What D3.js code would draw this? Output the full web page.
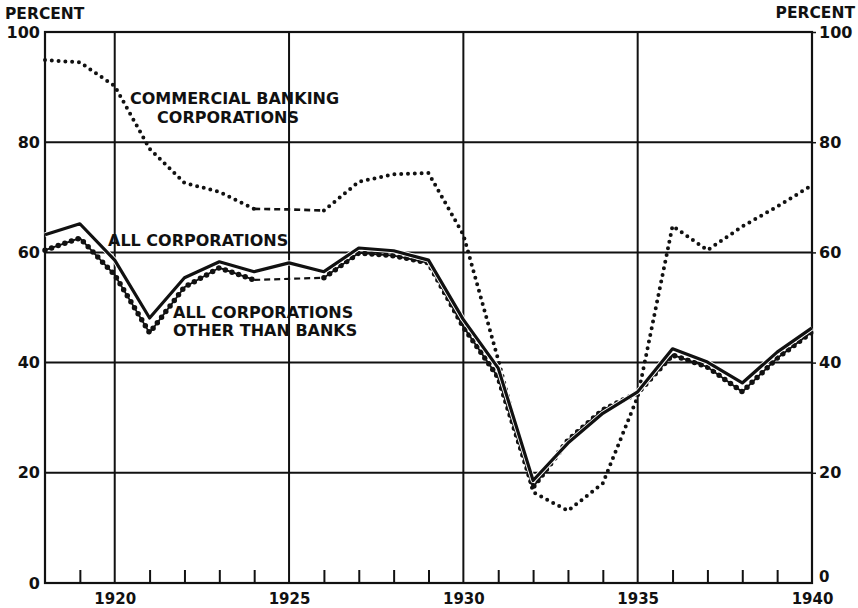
<!DOCTYPE html>
<html><head><meta charset="utf-8">
<script src="https://cdn.jsdelivr.net/npm/d3@7"></script>
<style>
body{margin:0;background:#fff;}
svg text{font-family:"DejaVu Sans",sans-serif;font-weight:bold;fill:#111;}
</style></head>
<body><svg id="c" width="858" height="608"></svg>
<script>
const years = [1918,1919,1920,1921,1922,1923,1924,1925,1926,1927,1928,1929,1930,1931,1932,1933,1934,1935,1936,1937,1938,1939,1940];
const allCorp = [63.2,65.2,58.6,48.1,55.4,58.3,56.5,58.1,56.5,60.8,60.3,58.6,47.8,39.0,18.6,25.4,30.8,34.7,42.5,40.1,36.3,41.9,46.3];
const otherCorp = [60.4,62.6,55.9,45.4,53.7,57.2,55.0,55.2,55.4,59.9,59.4,58.1,46.5,37.3,17.4,25.9,31.4,34.5,41.4,39.2,34.7,40.8,45.6];
const banks = [94.9,94.5,90.2,78.8,72.6,71.0,67.9,67.8,67.6,72.8,74.2,74.4,63.2,40.5,16.5,13.1,18.1,33.8,64.8,60.4,64.7,68.3,72.2];
const yTicks = [0,20,40,60,80,100];
const xLabelYears = [1920,1925,1930,1935,1940];
const xGridYears = [1920,1925,1930,1935];
const yGrid = [20,40,60,80];

const svg = d3.select("#c");
const L=45, R=812, T=32, B=583;
const x = d3.scaleLinear().domain([1918,1940]).range([L,R]);
const y = d3.scaleLinear().domain([0,100]).range([B,T]);
const ink="#111";
const NUMFONT = "DejaVu Sans Condensed";

// grid
svg.append("g").selectAll("line").data(yGrid).join("line")
  .attr("x1",L).attr("x2",R).attr("y1",d=>y(d)).attr("y2",d=>y(d))
  .attr("stroke",ink).attr("stroke-width",2);
svg.append("g").selectAll("line").data(xGridYears).join("line")
  .attr("x1",d=>x(d)).attr("x2",d=>x(d)).attr("y1",T).attr("y2",B)
  .attr("stroke",ink).attr("stroke-width",2);
svg.append("rect").attr("x",L).attr("y",T).attr("width",R-L).attr("height",B-T)
  .attr("fill","none").attr("stroke",ink).attr("stroke-width",2.2);

// minor ticks at bottom
const minor = d3.axisBottom(x).tickValues(years.filter(d=>d>1918&&d<1940&&d%5!==0)).tickSize(-13).tickFormat("");
const gm = svg.append("g").attr("transform",`translate(0,${B})`).call(minor);
gm.select(".domain").remove();
gm.selectAll("line").attr("stroke",ink).attr("stroke-width",2);

// x labels
const xa = d3.axisBottom(x).tickValues(xLabelYears).tickSize(0).tickPadding(10).tickFormat(d3.format("d"));
const gx = svg.append("g").attr("transform",`translate(0,${B})`).call(xa);
gx.select(".domain").remove();
gx.selectAll("text").attr("font-size",15).attr("font-family",NUMFONT).attr("font-weight","bold").attr("fill",ink);

// y axes
const yl = d3.axisLeft(y).tickValues(yTicks).tickSize(0).tickPadding(5);
const gyl = svg.append("g").attr("transform",`translate(${L},0)`).call(yl);
gyl.select(".domain").remove();
gyl.selectAll("text").attr("font-size",16).attr("font-family",NUMFONT).attr("font-weight","bold").attr("fill",ink);
const yr = d3.axisRight(y).tickValues(yTicks).tickSize(4).tickPadding(3);
const gyr = svg.append("g").attr("transform",`translate(${R},0)`).call(yr);
gyr.select(".domain").remove();
gyr.selectAll("line").attr("stroke",ink).attr("stroke-width",1.5);
gyr.selectAll("text").attr("font-size",16).attr("font-family",NUMFONT).attr("font-weight","bold").attr("fill",ink);
gyr.selectAll(".tick").filter(d=>d===0).select("text").attr("y",-6).attr("font-size",15);
gyr.selectAll(".tick").filter(d=>d===0).select("line").remove();

svg.append("text").attr("x",5).attr("y",19).attr("font-size",15.5).text("PERCENT");
svg.append("text").attr("x",855).attr("y",18).attr("text-anchor","end").attr("font-size",15.5).text("PERCENT");

const line = d3.line().x(d=>x(d[0])).y(d=>y(d[1]));
const pts = arr => years.map((yy,i)=>[yy,arr[i]]);
const dashSpan = p => p.filter(d=>d[0]>=1924&&d[0]<=1926);
const before = p => p.filter(d=>d[0]<=1924);
const after = p => p.filter(d=>d[0]>=1926);

// banks dotted
const pb = pts(banks);
[before(pb),after(pb)].forEach(s=>{
  svg.append("path").attr("d",line(s)).attr("fill","none").attr("stroke",ink)
    .attr("stroke-width",4).attr("stroke-linecap","round").attr("stroke-dasharray","0,6.8");
});
svg.append("path").attr("d",line(dashSpan(pb))).attr("fill","none").attr("stroke",ink)
  .attr("stroke-width",2.6).attr("stroke-dasharray","6,4");

// other corporations: thin line with dots
const po = pts(otherCorp);
[before(po),after(po)].forEach(s=>{
  svg.append("path").attr("d",line(s)).attr("fill","none").attr("stroke",ink).attr("stroke-width",1.8);
  svg.append("path").attr("d",line(s)).attr("fill","none").attr("stroke",ink)
    .attr("stroke-width",5.5).attr("stroke-linecap","round").attr("stroke-dasharray","0,7");
});
svg.append("path").attr("d",line(dashSpan(po))).attr("fill","none").attr("stroke",ink)
  .attr("stroke-width",2.2).attr("stroke-dasharray","6,4");

// all corporations solid
const pa = pts(allCorp);
svg.append("path").attr("d",line(pa)).attr("fill","none").attr("stroke","#fff").attr("stroke-width",5).attr("stroke-linejoin","round");
svg.append("path").attr("d",line(pa)).attr("fill","none").attr("stroke",ink).attr("stroke-width",3.2).attr("stroke-linejoin","round");

// labels
const lab = (t,xx,yy,anchor)=>svg.append("text").attr("x",xx).attr("y",yy).attr("font-size",16)
  .attr("text-anchor",anchor||"start").text(t);
lab("COMMERCIAL BANKING",130,104);
lab("CORPORATIONS",228,123,"middle");
lab("ALL CORPORATIONS",108,246);
lab("ALL CORPORATIONS",173,318);
lab("OTHER THAN BANKS",173,336);
</script></body></html>
